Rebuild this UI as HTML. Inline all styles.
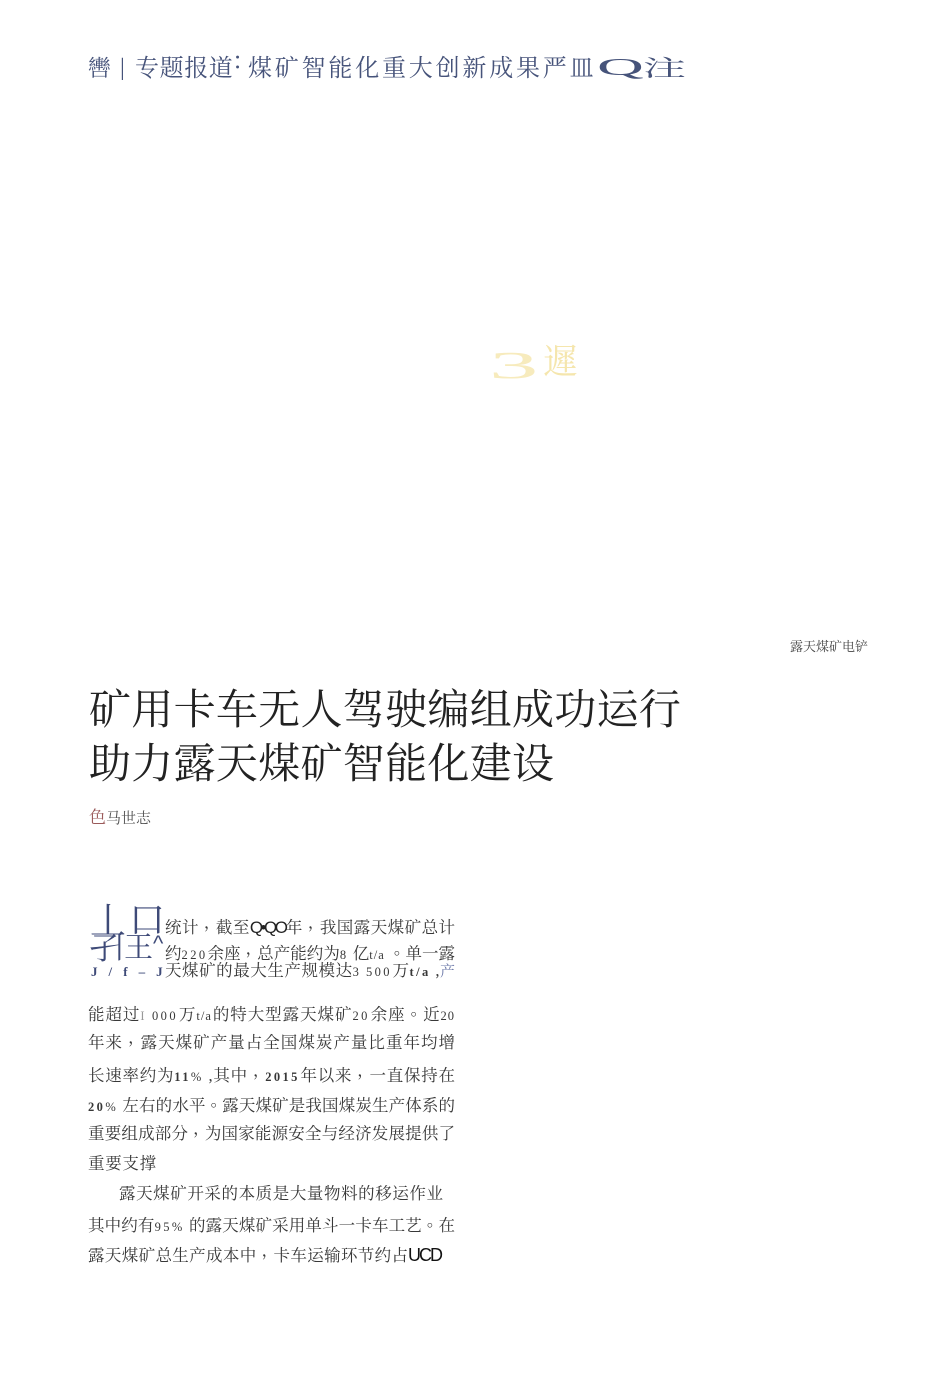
<!DOCTYPE html>
<html lang="zh"><head><meta charset="utf-8"><style>
html,body{margin:0;padding:0;background:#fff}
#p{position:relative;width:950px;height:1398px;overflow:hidden;background:#fff;font-family:"Liberation Serif","Noto Serif CJK SC",serif;color:#333}
.l{position:absolute;white-space:nowrap;line-height:1}
.b{left:88px;width:367px;font-size:16.5px;height:18px;line-height:18px;text-align:justify;text-align-last:justify;white-space:normal;color:#383838}
.n{font-size:12.5px;letter-spacing:2.4px}
.q{display:inline-block;font-family:"Liberation Sans",sans-serif}
.c{position:relative;top:-5px;left:5px}
.s{display:inline-block;transform-origin:0 50%}
.h{font-size:24px;line-height:24px;color:#46537a}
</style></head><body><div id="p">
<div class="l h" style="left:88px;top:57px;font-size:22.6px">轡</div>
<div class="l h" style="left:120px;top:56px">|</div>
<div class="l h" style="left:135px;top:57px;letter-spacing:.6px">专题报道</div>
<div class="l h" style="left:232px;top:50px">：</div>
<div class="l h" style="left:248px;top:57px;letter-spacing:2.8px">煤矿智能化重大创新成果严皿</div>
<div class="l h" style="left:597px;top:56px;font-size:24px"><span class="s" style="transform:scaleX(2.7)">Q</span></div>
<div class="l h" style="left:643px;top:57px;font-size:22.6px"><span class="s" style="transform:scaleX(1.9)">注</span></div>
<div class="l" style="left:489px;top:347px;font-size:38px;color:#f7ebbd"><span class="s" style="transform:scaleX(2.6)">3</span></div>
<div class="l" style="left:543px;top:345px;font-size:35px;color:#f5e6ad">遲</div>
<div class="l" style="left:790px;top:640px;font-size:13px;color:#444">露天煤矿电铲</div>
<div class="l" style="left:89px;top:690px;font-size:42px;letter-spacing:.3px;color:#222">矿用卡车无人驾驶编组成功运行</div>
<div class="l" style="left:89px;top:744px;font-size:42px;letter-spacing:.3px;color:#222">助力露天煤矿智能化建设</div>
<div class="l" style="left:89px;top:809px;font-size:15px;color:#555"><span style="color:#9a5a5a;font-size:17px">色</span>马世志</div>
<div class="l" style="left:90px;top:903px;font-size:36px;color:#3e4a78">丄</div>
<div class="l" style="left:129px;top:902px;font-size:36px;color:#3e4a78">口</div>
<div class="l" style="left:89px;top:933px;font-size:31px;color:#3e4a78">孑</div>
<div class="l" style="left:105px;top:935px;font-size:29px;color:#3e4a78">丨</div>
<div class="l" style="left:124px;top:934px;font-size:29px;color:#3e4a78">王</div>
<div class="l" style="left:153px;top:933px;font-size:22px;color:#3e4a78;font-family:'Liberation Sans',sans-serif">^</div>
<div class="l" style="left:91px;top:965px;font-size:13px;font-weight:bold;letter-spacing:3.9px;color:#3e4a78">J / f – J</div>
<div class="l b" style="left:165px;width:290px;top:919px">统计<span class="c">，</span>截至<span class="q" style="font-size:17px;letter-spacing:-2.5px;color:#222">Q•QO</span>年<span class="c">，</span>我国露天煤矿总计</div>
<div class="l b" style="left:165px;width:290px;top:945px">约<span class="n">220</span>余座<span class="c">，</span>总产能约为<span class="n">8</span> 亿<span class="n" style="letter-spacing:1px">t/a</span> <span class="c">。</span>单一露</div>
<div class="l b" style="left:165px;width:290px;top:962px">天煤矿的最大生产规模达<span class="n">3</span> <span class="n">500</span>万<span class="n"><b>t/a</b></span> ,<span style="color:#6b78a8;font-size:15px">产</span></div>
<div class="l b" style="top:1006px">能超过<span class="n" style="color:#999">I</span> <span class="n">000</span>万<span class="n" style="letter-spacing:1px">t/a</span>的特大型露天煤矿<span class="n">20</span>余座<span class="c">。</span>近<span class="n" style="letter-spacing:1px">20</span></div>
<div class="l b" style="top:1034px">年来<span class="c">，</span>露天煤矿产量占全国煤炭产量比重年均增</div>
<div class="l b" style="top:1067px">长速率约为<span class="n"><b>11</b></span><span class="n">%</span> ,其中<span class="c">，</span><span class="n"><b>2015</b></span>年以来<span class="c">，</span>一直保持在</div>
<div class="l b" style="top:1097px"><span class="n"><b>20</b>%</span> 左右的水平<span class="c">。</span>露天煤矿是我国煤炭生产体系的</div>
<div class="l b" style="top:1125px">重要组成部分<span class="c">，</span>为国家能源安全与经济发展提供了</div>
<div class="l" style="left:88px;top:1155px;font-size:16.5px;line-height:18px;letter-spacing:.7px;color:#383838">重要支撑</div>
<div class="l b" style="left:119px;width:324px;top:1185px">露天煤矿开采的本质是大量物料的移运作业</div>
<div class="l b" style="top:1217px">其中约有<span class="n">95%</span> 的露天煤矿采用单斗一卡车工艺<span class="c">。</span>在</div>
<div class="l b" style="width:320px;top:1247px">露天煤矿总生产成本中<span class="c">，</span>卡车运输环节约占</div>
<div class="l q" style="left:408px;top:1246px;font-size:18px;line-height:18px;letter-spacing:-2px;color:#111">UCD</div>
</div></body></html>
